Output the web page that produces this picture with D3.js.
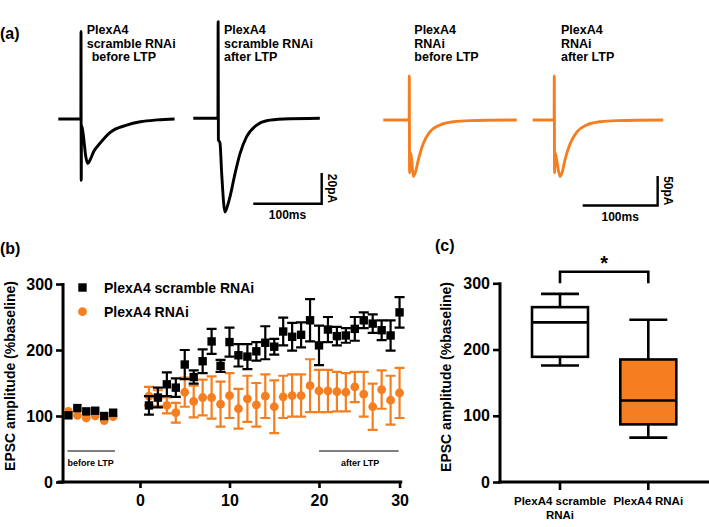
<!DOCTYPE html>
<html>
<head>
<meta charset="utf-8">
<script src="https://cdn.jsdelivr.net/npm/d3@7"></script>
<style>
  body { margin: 0; background: #fff; }
  svg { display: block; font-family: 'Liberation Sans', Arial, Helvetica, sans-serif; font-weight: bold; }
</style>
</head>
<body>
<div id="chart"></div>
<script>
// ---- data ----
var orange = '#f57f20'

// panel (a) example traces: [time ms, current pA]
var traceScrBefore = [[0, 0], [33, 0], [33.2, 57], [33.5, -40], [34, -4], [36.5, -10], [40, -24], [43, -29], [46, -27], [52, -21], [61, -15.8], [75, -9], [100, -4], [120, -1.8], [145, -0.6], [170, 0]]
var traceScrAfter = [[0, 0], [36, 0], [36.3, 63], [36.7, -14], [39, -16], [41.5, -36], [46.3, -61], [50, -57], [53.7, -51], [61, -36], [68.3, -23], [78, -12], [92.7, -4.4], [107, -1.6], [132, -0.5], [185, 0]]
var traceRnaiBefore = [[0, 0], [34.5, 0], [34.7, 75], [35, -90], [36.5, -56], [38, -70], [40, -96], [43, -88], [46.7, -68], [53.3, -40], [62.2, -20], [75.6, -8.5], [93.3, -2.9], [115.6, -1.1], [178, 0]]
var traceRnaiAfter = [[0, 0], [28.6, 0], [28.8, 75], [29.1, -90], [30, -56], [32.5, -72], [36.3, -96], [39.5, -88], [43, -68], [50, -40], [59, -20], [72, -8.5], [90, -2.9], [112, -1.1], [174, 0]]
var traceLabels = [
  ['PlexA4', 'scramble RNAi', ' before LTP'],
  ['PlexA4', 'scramble RNAi', 'after LTP'],
  ['PlexA4', 'RNAi', 'before LTP'],
  ['PlexA4', 'RNAi', 'after LTP']
]

// panel (b) time course
var baseTime = [-8, -7, -6, -5, -4, -3]
var baseScr = [101, 112, 107, 108, 100, 105]
var baseRnai = [107, 101, 97, 100, 93, 99]
var time = d3.range(1, 30)
var scrMean = [116, 128, 148, 143, 178, 159, 183, 213, 176, 212, 192, 190, 198, 211, 205, 228, 220, 223, 245, 207, 231, 221, 222, 232, 245, 240, 230, 222, 257]
var scrSem = [14, 15, 18, 14, 22, 10, 18, 19, 9, 22, 17, 19, 14, 25, 12, 21, 21, 19, 32, 30, 19, 14, 11, 18, 12, 14, 15, 23, 23]
var rnaiMean = [130, 127, 116, 105, 136, 122, 128, 128, 118, 131, 111, 126, 117, 130, 114, 129, 131, 131, 146, 138, 138, 137, 136, 144, 133, 114, 140, 124, 135]
var rnaiSem = [14, 12, 12, 15, 22, 24, 27, 32, 34, 34, 30, 35, 33, 33, 40, 32, 32, 32, 40, 32, 32, 30, 29, 23, 34, 35, 29, 37, 38]
var xTickPos = [0, 10, 20, 29]
var xTickLabels = ['0', '10', '20', '30']
var yTicks = [0, 100, 200, 300]

// panel (c) box plot
var groups = ['scr', 'rnai']
var groupLabels = [['PlexA4 scramble', 'RNAi'], ['PlexA4 RNAi']]
var boxMin = [176, 67]
var boxQ1 = [189, 87]
var boxMed = [241, 123]
var boxQ3 = [264, 185]
var boxMax = [284, 245]
var boxFill = ['#ffffff', orange]

// ---- drawing ----
var W = 709
var H = 527
var svg = d3.select('#chart').append('svg').attr('width', W).attr('height', H)

// ===== panel (a) =====
svg.append('text').attr('x', 0).attr('y', 39).style('font-size', '16px').text('(a)')

var traces = [
  { d: traceScrBefore, x0: 58.3, y0: 119, pxMs: 0.684, pxPa: 1.535, col: '#000', lx: 86.7 },
  { d: traceScrAfter, x0: 193.3, y0: 118.3, pxMs: 0.684, pxPa: 1.535, col: '#000', lx: 224 },
  { d: traceRnaiBefore, x0: 383.3, y0: 120, pxMs: 0.75, pxPa: 0.588, col: orange, lx: 414.3 },
  { d: traceRnaiAfter, x0: 532.7, y0: 120, pxMs: 0.75, pxPa: 0.588, col: orange, lx: 561 }
]

traces.forEach(function (t, idx) {
  var sx = d3.scaleLinear().domain([0, 100]).range([t.x0, t.x0 + 100 * t.pxMs])
  var sy = d3.scaleLinear().domain([0, 100]).range([t.y0, t.y0 - 100 * t.pxPa])
  t.sx = sx
  t.sy = sy
  var line = d3.line().x(function (p) { return sx(p[0]) }).y(function (p) { return sy(p[1]) }).curve(d3.curveMonotoneX)
  svg.append('path')
    .attr('d', line(t.d))
    .attr('fill', 'none')
    .attr('stroke', t.col)
    .attr('stroke-width', 2.9)
    .attr('stroke-linejoin', 'round')
  var lab = svg.append('text').style('font-size', '12.5px')
  traceLabels[idx].forEach(function (s, j) {
    lab.append('tspan').attr('x', idx === 0 && j === 2 ? t.lx + 1.5 : t.lx).attr('y', 34 + j * 13.6).text(s)
  })
})

// scale bars
function scaleBar (t, msStart, pa, paLabel) {
  var xa = t.sx(msStart)
  var xb = t.sx(msStart + 100)
  var yb = t.sy(0) + 85.5
  var ya = yb - pa * t.pxPa
  svg.append('path')
    .attr('d', 'M' + xa + ',' + yb + 'H' + xb + 'V' + ya)
    .attr('fill', 'none').attr('stroke', '#000').attr('stroke-width', 2.4)
  svg.append('text').attr('x', (xa + xb) / 2).attr('y', yb + 15.5)
    .attr('text-anchor', 'middle').style('font-size', '12px').text('100ms')
  svg.append('text')
    .attr('transform', 'translate(' + (xb + 6) + ',' + ((ya + yb) / 2) + ') rotate(90)')
    .attr('text-anchor', 'middle').style('font-size', '12px').text(paLabel)
}
scaleBar(traces[1], 87.7, 20, '20pA')
scaleBar(traces[3], 66.6, 50, '50pA')

// ===== panel (b) =====
svg.append('text').attr('x', 0).attr('y', 254).style('font-size', '16px').text('(b)')

var x = d3.scaleLinear().domain([0, 20]).range([140, 319])
var y = d3.scaleLinear().domain([0, 300]).range([482, 284])
var yAxisX = x(-8.6)

var gb = svg.append('g')

// y axis
var yAx = gb.append('g').attr('transform', 'translate(' + yAxisX + ',0)')
  .call(d3.axisLeft(y).tickValues(yTicks).tickSize(7).tickSizeOuter(0).tickPadding(3))
yAx.select('.domain').remove()
yAx.selectAll('line').attr('stroke-width', 2.6)
yAx.selectAll('text').style('font-size', '16px').style('font-family', 'inherit').attr('fill', '#000')
gb.append('line').attr('x1', yAxisX).attr('x2', yAxisX).attr('y1', y(300) - 1).attr('y2', y(0) + 1.5)
  .attr('stroke', '#000').attr('stroke-width', 3)

// x axis
var xAx = gb.append('g').attr('transform', 'translate(0,' + y(0) + ')')
  .call(d3.axisBottom(x).tickValues(xTickPos).tickFormat(function (d, i) { return xTickLabels[i] }).tickSize(6).tickSizeOuter(0).tickPadding(7))
xAx.select('.domain').remove()
xAx.selectAll('line').attr('stroke-width', 2.6)
xAx.selectAll('text').style('font-size', '16px').style('font-family', 'inherit').attr('fill', '#000')
gb.append('line').attr('x1', x(-9.2)).attr('x2', x(29.3)).attr('y1', y(0)).attr('y2', y(0))
  .attr('stroke', '#000').attr('stroke-width', 3)

gb.append('text').attr('transform', 'translate(15,' + 376 + ') rotate(-90)')
  .attr('text-anchor', 'middle').style('font-size', '14px').text('EPSC amplitude (%baseline)')

// period markers
gb.append('line').attr('x1', x(-8.1)).attr('x2', x(-2.8)).attr('y1', 451).attr('y2', 451).attr('stroke', '#000').attr('stroke-width', 1.2)
gb.append('text').attr('x', x(-8.1)).attr('y', 466).style('font-size', '9px').text('before LTP')
gb.append('line').attr('x1', x(20)).attr('x2', x(28.9)).attr('y1', 451).attr('y2', 451).attr('stroke', '#000').attr('stroke-width', 1.2)
gb.append('text').attr('x', x(24.6)).attr('y', 466).attr('text-anchor', 'middle').style('font-size', '9px').text('after LTP')

function errBars (means, sems, col) {
  var g = gb.append('g').attr('stroke', col).attr('stroke-width', 2.2)
  means.forEach(function (m, i) {
    var cx = x(time[i])
    g.append('path').attr('d',
      'M' + cx + ',' + y(m - sems[i]) + 'V' + y(m + sems[i]) +
      'M' + (cx - 5) + ',' + y(m + sems[i]) + 'H' + (cx + 5) +
      'M' + (cx - 5) + ',' + y(m - sems[i]) + 'H' + (cx + 5))
  })
}

// orange (RNAi) underneath
errBars(rnaiMean, rnaiSem, orange)
gb.selectAll('circle.rb').data(baseRnai).enter().append('circle')
  .attr('cx', function (d, i) { return x(baseTime[i]) }).attr('cy', function (d) { return y(d) })
  .attr('r', 4.4).attr('fill', orange)
gb.selectAll('circle.ra').data(rnaiMean).enter().append('circle')
  .attr('cx', function (d, i) { return x(time[i]) }).attr('cy', function (d) { return y(d) })
  .attr('r', 4.4).attr('fill', orange)

// black (scramble) on top
errBars(scrMean, scrSem, '#000')
var sq = 8.4
gb.selectAll('rect.sb').data(baseScr).enter().append('rect')
  .attr('x', function (d, i) { return x(baseTime[i]) - sq / 2 }).attr('y', function (d) { return y(d) - sq / 2 })
  .attr('width', sq).attr('height', sq).attr('fill', '#000')
gb.selectAll('rect.sa').data(scrMean).enter().append('rect')
  .attr('x', function (d, i) { return x(time[i]) - sq / 2 }).attr('y', function (d) { return y(d) - sq / 2 })
  .attr('width', sq).attr('height', sq).attr('fill', '#000')

// legend
gb.append('rect').attr('x', 78.3).attr('y', 283.3).attr('width', sq).attr('height', sq).attr('fill', '#000')
gb.append('text').attr('x', 104).attr('y', 293).style('font-size', '14px').text('PlexA4 scramble RNAi')
gb.append('circle').attr('cx', 82.5).attr('cy', 311.7).attr('r', 4.4).attr('fill', orange)
gb.append('text').attr('x', 104).attr('y', 317).style('font-size', '14px').text('PlexA4 RNAi')

// ===== panel (c) =====
svg.append('text').attr('x', 435).attr('y', 251).style('font-size', '16px').text('(c)')

var gc = svg.append('g')
var xc = d3.scalePoint().domain(groups).range([560, 648.3])
var yc = d3.scaleLinear().domain([0, 300]).range([482, 283.3])
var cAxisX = 500

var ycAx = gc.append('g').attr('transform', 'translate(' + cAxisX + ',0)')
  .call(d3.axisLeft(yc).tickValues(yTicks).tickSize(7).tickSizeOuter(0).tickPadding(3))
ycAx.select('.domain').remove()
ycAx.selectAll('line').attr('stroke-width', 2.6)
ycAx.selectAll('text').style('font-size', '16px').style('font-family', 'inherit').attr('fill', '#000')
gc.append('line').attr('x1', cAxisX).attr('x2', cAxisX).attr('y1', yc(300) - 1).attr('y2', yc(0) + 1.5)
  .attr('stroke', '#000').attr('stroke-width', 3)
gc.append('line').attr('x1', cAxisX - 1.5).attr('x2', 709).attr('y1', yc(0)).attr('y2', yc(0))
  .attr('stroke', '#000').attr('stroke-width', 3)

groups.forEach(function (gname, i) {
  var cx = xc(gname)
  gc.append('line').attr('x1', cx).attr('x2', cx).attr('y1', yc(0)).attr('y2', yc(0) + 8)
    .attr('stroke', '#000').attr('stroke-width', 2.6)
  groupLabels[i].forEach(function (s, j) {
    gc.append('text').attr('text-anchor', 'middle').style('font-size', '11.5px')
      .attr('x', cx).attr('y', 505 + j * 13.5).text(s)
  })
})

gc.append('text').attr('transform', 'translate(451,' + 377 + ') rotate(-90)')
  .attr('text-anchor', 'middle').style('font-size', '14px').text('EPSC amplitude (%baseline)')

var boxW = 56
var capW = 38
groups.forEach(function (gname, i) {
  var cx = xc(gname)
  var g = gc.append('g').attr('stroke', '#000').attr('stroke-width', 2.6).attr('fill', 'none')
  g.append('path').attr('d',
    'M' + cx + ',' + yc(boxMax[i]) + 'V' + yc(boxQ3[i]) +
    'M' + cx + ',' + yc(boxQ1[i]) + 'V' + yc(boxMin[i]) +
    'M' + (cx - capW / 2) + ',' + yc(boxMax[i]) + 'H' + (cx + capW / 2) +
    'M' + (cx - capW / 2) + ',' + yc(boxMin[i]) + 'H' + (cx + capW / 2))
  g.append('rect').attr('x', cx - boxW / 2).attr('y', yc(boxQ3[i]))
    .attr('width', boxW).attr('height', yc(boxQ1[i]) - yc(boxQ3[i]))
    .attr('fill', boxFill[i])
  g.append('line').attr('x1', cx - boxW / 2).attr('x2', cx + boxW / 2)
    .attr('y1', yc(boxMed[i])).attr('y2', yc(boxMed[i]))
})

// significance bracket
var bY = 271.7
gc.append('path')
  .attr('d', 'M' + xc('scr') + ',' + yc(300) + 'V' + bY + 'H' + xc('rnai') + 'V' + yc(300))
  .attr('fill', 'none').attr('stroke', '#000').attr('stroke-width', 2.6)
gc.append('text').attr('x', (xc('scr') + xc('rnai')) / 2).attr('y', 270)
  .attr('text-anchor', 'middle').style('font-size', '20px').text('*')
</script>
</body>
</html>
